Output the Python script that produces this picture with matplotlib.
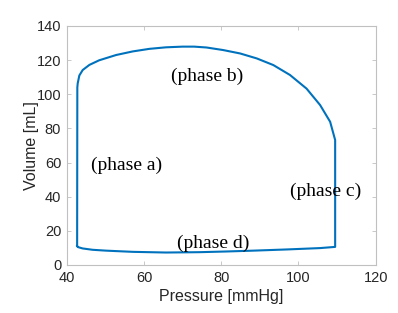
"""Pressure-volume loop with four labelled phases."""

import numpy as np
import matplotlib.pyplot as plt

# loop outline, traversed clockwise
top_p = [42.7, 42.75, 42.85, 43.27, 44.14, 45.87, 48.4, 52.8, 57.1, 61.4, 65.7,
         70.0, 73.0, 76.2, 80.5, 84.9, 89.2, 93.5, 97.8, 102.1, 105.6, 108.2, 109.5]
top_v = [11.1, 104.0, 106.4, 111.0, 114.2, 117.2, 119.9, 123.0, 125.1, 126.6, 127.5,
         127.9, 127.9, 127.4, 125.9, 123.9, 121.0, 117.1, 111.3, 103.3, 93.7, 83.9, 73.2]
bottom_p = [109.5, 105.6, 97.0, 88.3, 81.2, 74.3, 65.7, 57.1, 50.2, 46.7, 44.1, 42.9, 42.7]
bottom_v = [10.6, 9.9, 9.1, 8.4, 7.9, 7.5, 7.3, 7.7, 8.4, 8.9, 9.7, 10.5, 11.1]

phase_labels = ["(phase a)", "(phase b)", "(phase c)", "(phase d)"]
phase_p = [55.6, 76.4, 107.1, 78.0]
phase_v = [58.6, 110.7, 43.3, 12.6]

x_ticks = [40, 60, 80, 100, 120]
y_ticks = [0, 20, 40, 60, 80, 100, 120, 140]


def main() -> None:
    fig = plt.figure(figsize=(3.98, 3.13), dpi=100)
    ax = fig.add_axes([0.1676, 0.1534, 0.7764, 0.7636])

    p = np.array(top_p + bottom_p)
    v = np.array(top_v + bottom_v)
    ax.plot(p, v, color="#0072BD", linewidth=1.5, solid_joinstyle="round")

    for label, px, pv in zip(phase_labels, phase_p, phase_v):
        ax.text(px, pv, label, ha="center", va="center",
                family="Liberation Serif", fontsize=14, color="black")

    ax.set_xlim(40, 120)
    ax.set_ylim(0, 140)
    ax.set_xticks(x_ticks)
    ax.set_yticks(y_ticks)
    ax.tick_params(direction="in", top=True, right=True, length=3,
                   width=0.6, color="#c0c0c0", labelcolor="#262626",
                   labelsize=10.5, pad=4)
    for lab in ax.get_xticklabels() + ax.get_yticklabels():
        lab.set_family("Liberation Sans")
    for s in ax.spines.values():
        s.set_color("#c0c0c0")
        s.set_linewidth(0.8)

    ax.set_xlabel("Pressure [mmHg]", family="Liberation Sans", fontsize=11.5,
                  color="#262626", labelpad=3)
    ax.set_ylabel("Volume [mL]", family="Liberation Sans", fontsize=11.5,
                  color="#262626", labelpad=-2)

    fig.savefig("out.png", dpi=100)


if __name__ == "__main__":
    main()
